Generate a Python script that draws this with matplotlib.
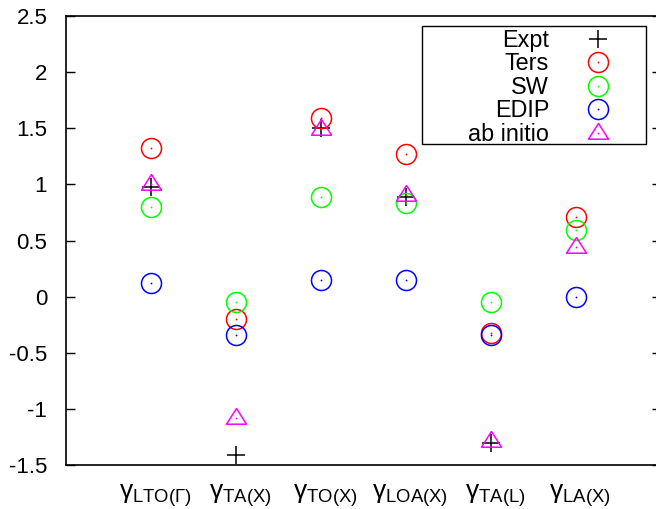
import numpy as np
import matplotlib
matplotlib.use("Agg")
import matplotlib.pyplot as plt
from matplotlib.patches import Rectangle
from matplotlib.legend_handler import HandlerTuple
from matplotlib.ticker import FormatStrFormatter
from matplotlib.transforms import ScaledTranslation

plt.rcParams['font.family'] = ['Liberation Sans', 'DejaVu Sans']
plt.rcParams['mathtext.fontset'] = 'custom'
plt.rcParams['mathtext.rm'] = 'Liberation Sans'
plt.rcParams['mathtext.it'] = 'Liberation Sans:italic'
plt.rcParams['axes.unicode_minus'] = False

# ---- data ----
categories = [r'$\mathrm{\gamma}_{\mathrm{LTO(\Gamma)}}$',
              r'$\mathrm{\gamma}_{\mathrm{TA(X)}}$',
              r'$\mathrm{\gamma}_{\mathrm{TO(X)}}$',
              r'$\mathrm{\gamma}_{\mathrm{LOA(X)}}$',
              r'$\mathrm{\gamma}_{\mathrm{TA(L)}}$',
              r'$\mathrm{\gamma}_{\mathrm{LA(X)}}$']
expt = [0.98, -1.41, 1.50, 0.89, -1.30, np.nan]
ters = [1.32, -0.20, 1.59, 1.27, -0.32, 0.71]
sw = [0.80, -0.045, 0.89, 0.83, -0.045, 0.59]
edip = [0.12, -0.34, 0.15, 0.15, -0.34, 0.00]
abinitio = [1.00, -1.085, 1.495, 0.905, -1.285, 0.44]
yticks = [-1.5, -1, -0.5, 0, 0.5, 1, 1.5, 2, 2.5]

x = np.arange(1, len(categories) + 1)

fig = plt.figure(figsize=(6.56, 5.09), dpi=100)
ax = fig.add_axes([66/656, 44/509, 595/656, 449/509])

tri = [(0, 10), (-10, -5.7), (10, -5.7), (0, 10)]
circ_ms = 14.4
mew = 1.1

handles = []
h, = ax.plot(x, expt, linestyle='none', marker='+', ms=13.5, mew=1.1, color='black')
handles.append(h)
for vals, col in [(ters, '#ff0000'), (sw, '#00ff00'), (edip, '#0000ff')]:
    h1, = ax.plot(x, vals, linestyle='none', marker='o', ms=circ_ms, mfc='none',
                  mec=col, mew=mew)
    h2, = ax.plot(x, vals, linestyle='none', marker='o', ms=1.3, mfc=col, mec='none')
    handles.append((h1, h2))
h1, = ax.plot(x, abinitio, linestyle='none', marker=tri, ms=14.4, mfc='none',
              mec='#ff00ff', mew=mew)
h2, = ax.plot(x, abinitio, linestyle='none', marker='o', ms=1.3, mfc='#ff00ff', mec='none')
handles.append((h1, h2))

labels = ['Expt', 'Ters', 'SW', 'EDIP', 'ab initio']

ax.set_xlim(0, 7)
ax.set_ylim(-1.5, 2.5)
ax.set_xticks(x)
ax.set_xticklabels(categories, fontsize=19)
ax.set_yticks(yticks)
ax.yaxis.set_major_formatter(FormatStrFormatter('%g'))
ax.tick_params(axis='x', length=0, pad=12.5)
ax.tick_params(axis='y', direction='in', length=6.5, width=1.0, pad=13.5,
               labelsize=16, right=True)
for s in ax.spines.values():
    s.set_linewidth(1.2)
shift = ScaledTranslation(4/100, 0, fig.dpi_scale_trans)
for lbl in ax.get_xticklabels():
    lbl.set_transform(lbl.get_transform() + shift)

leg = ax.legend(handles, labels, loc='upper right', bbox_to_anchor=(0.933, 0.997),
                frameon=False, markerfirst=False, fontsize=16.8, handlelength=1.0,
                handletextpad=1.59, borderpad=0, labelspacing=0.02,
                handler_map={tuple: HandlerTuple(ndivide=1, pad=0)})
ax.add_patch(Rectangle((0.598, 0.715), 0.3765, 0.263, transform=ax.transAxes,
                       facecolor='white', edgecolor='black', linewidth=1.0, zorder=1))

fig.savefig('out.png', dpi=100)
